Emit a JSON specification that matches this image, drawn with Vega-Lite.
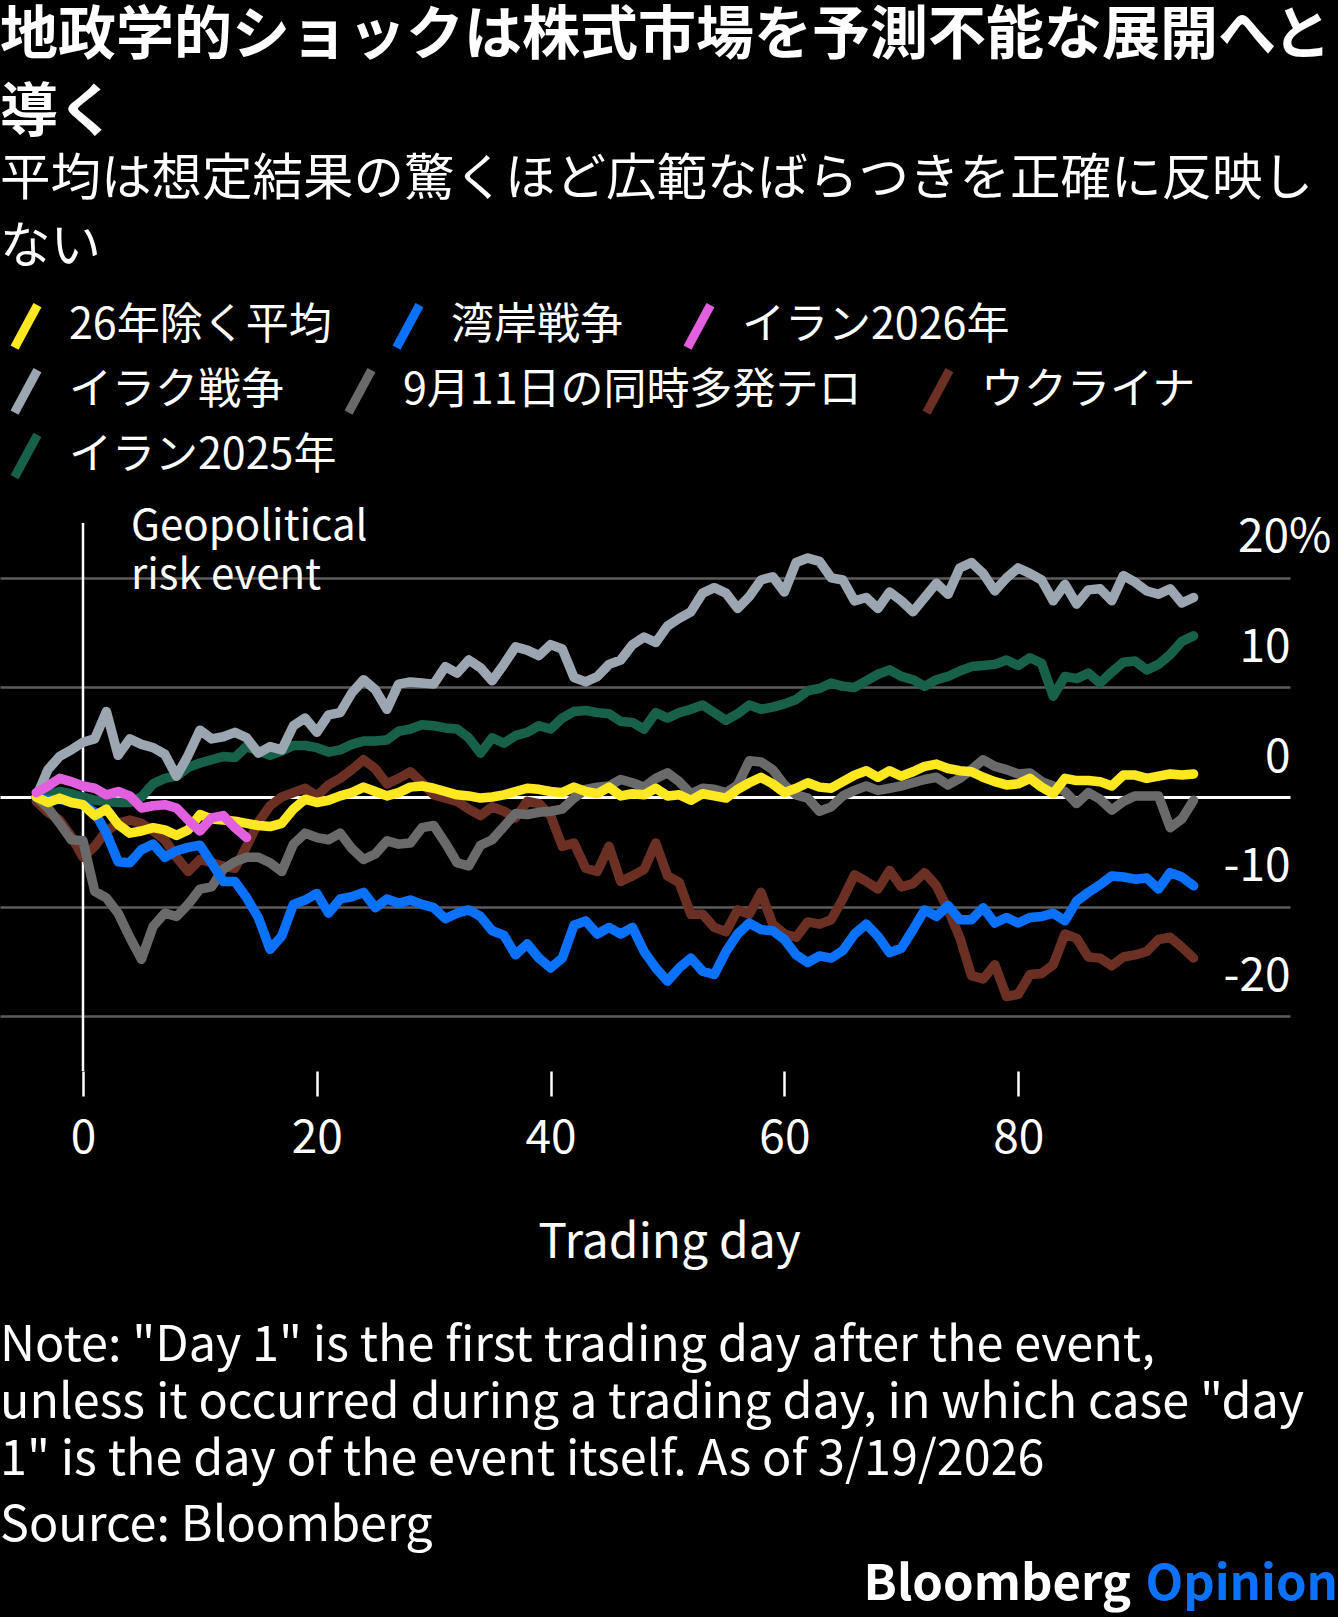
{
  "$schema": "https://vega.github.io/schema/vega-lite/v6.json",
  "background": "black",
  "padding": {"left": 0, "top": 7, "right": 0, "bottom": 0},
  "autosize": {"type": "pad"},
  "title": {
    "text": ["地政学的ショックは株式市場を予測不能な展開へと", "導く"],
    "subtitle": ["平均は想定結果の驚くほど広範なばらつきを正確に反映し", "ない"],
    "anchor": "start",
    "frame": "group",
    "font": "Noto Sans CJK JP",
    "fontSize": 58,
    "fontWeight": "bold",
    "lineHeight": 77,
    "color": "white",
    "subtitleFont": "Noto Sans CJK JP",
    "subtitleFontSize": 50.5,
    "subtitleFontWeight": "normal",
    "subtitleLineHeight": 68,
    "subtitleColor": "white",
    "subtitlePadding": 12,
    "offset": 27
  },
  "datasets": {
    "names": [
      {"k": "a", "name": "26年除く平均"},
      {"k": "g", "name": "湾岸戦争"},
      {"k": "p", "name": "イラン2026年"},
      {"k": "q", "name": "イラク戦争"},
      {"k": "n", "name": "9月11日の同時多発テロ"},
      {"k": "u", "name": "ウクライナ"},
      {"k": "e", "name": "イラン2025年"}
    ],
    "days": [
      {"d": -4, "a": 0.0, "g": 0.0, "p": 0.4, "q": 0.0, "n": 0.0, "u": -0.4, "e": 0.0},
      {"d": -3, "a": -0.5, "g": -0.3, "p": 1.0, "q": 2.5, "n": -1.0, "u": -1.4, "e": 0.2},
      {"d": -2, "a": -0.1, "g": -0.2, "p": 1.7, "q": 3.7, "n": -2.4, "u": -2.1, "e": 0.5},
      {"d": -1, "a": -0.5, "g": -0.5, "p": 1.4, "q": 4.3, "n": -3.9, "u": -3.6, "e": 0.3},
      {"d": 0, "a": -0.7, "g": -0.7, "p": 1.0, "q": 5.0, "n": -4.0, "u": -5.5, "e": 0.0},
      {"d": 1, "a": -1.7, "g": -1.4, "p": 0.8, "q": 5.3, "n": -8.6, "u": -4.5, "e": -0.3},
      {"d": 2, "a": -1.1, "g": -3.3, "p": 0.2, "q": 7.8, "n": -9.2, "u": -3.1, "e": -0.4},
      {"d": 3, "a": -2.5, "g": -5.9, "p": 0.5, "q": 3.8, "n": -10.6, "u": -2.4, "e": -0.5},
      {"d": 4, "a": -3.3, "g": -6.0, "p": 0.1, "q": 5.3, "n": -12.8, "u": -2.1, "e": -0.5},
      {"d": 5, "a": -3.1, "g": -4.8, "p": -1.0, "q": 4.8, "n": -14.8, "u": -2.4, "e": 0.0},
      {"d": 6, "a": -2.8, "g": -4.3, "p": -0.8, "q": 4.5, "n": -11.8, "u": -3.1, "e": 1.2},
      {"d": 7, "a": -3.0, "g": -5.5, "p": -0.7, "q": 3.9, "n": -10.6, "u": -3.9, "e": 1.7},
      {"d": 8, "a": -3.5, "g": -4.9, "p": -1.0, "q": 1.9, "n": -10.9, "u": -5.5, "e": 1.9},
      {"d": 9, "a": -3.0, "g": -4.6, "p": -2.1, "q": 3.8, "n": -9.8, "u": -6.8, "e": 2.7},
      {"d": 10, "a": -1.6, "g": -4.4, "p": -3.1, "q": 6.1, "n": -8.4, "u": -5.7, "e": 3.1},
      {"d": 11, "a": -2.0, "g": -6.0, "p": -1.9, "q": 5.3, "n": -8.2, "u": -6.0, "e": 3.4},
      {"d": 12, "a": -2.1, "g": -7.7, "p": -1.7, "q": 5.5, "n": -6.6, "u": -6.3, "e": 3.7},
      {"d": 13, "a": -2.2, "g": -7.7, "p": -2.8, "q": 5.9, "n": -5.9, "u": -6.5, "e": 3.6},
      {"d": 14, "a": -2.4, "g": -9.2, "p": -3.7, "q": 5.4, "n": -5.5, "u": -4.5, "e": 4.6},
      {"d": 15, "a": -2.6, "g": -11.0, "q": 4.0, "n": -5.5, "u": -2.3, "e": 4.2},
      {"d": 16, "a": -2.7, "g": -13.9, "q": 4.6, "n": -6.0, "u": -0.8, "e": 3.8},
      {"d": 17, "a": -2.4, "g": -12.7, "q": 4.3, "n": -6.8, "u": 0.0, "e": 4.2},
      {"d": 18, "a": -1.1, "g": -9.8, "q": 6.5, "n": -4.3, "u": 0.4, "e": 4.7},
      {"d": 19, "a": -0.2, "g": -9.4, "q": 7.2, "n": -3.3, "u": 0.8, "e": 4.7},
      {"d": 20, "a": -0.5, "g": -8.8, "q": 5.9, "n": -3.7, "u": 0.1, "e": 4.5},
      {"d": 21, "a": -0.3, "g": -10.6, "q": 7.5, "n": -3.9, "u": 1.1, "e": 4.1},
      {"d": 22, "a": 0.1, "g": -9.3, "q": 7.7, "n": -3.3, "u": 1.7, "e": 4.3},
      {"d": 23, "a": 0.4, "g": -9.1, "q": 9.5, "n": -4.7, "u": 2.5, "e": 4.8},
      {"d": 24, "a": 0.9, "g": -8.7, "q": 10.7, "n": -5.7, "u": 3.4, "e": 5.1},
      {"d": 25, "a": 0.5, "g": -10.1, "q": 9.8, "n": -5.2, "u": 2.6, "e": 5.1},
      {"d": 26, "a": 0.1, "g": -9.3, "q": 8.0, "n": -4.0, "u": 1.2, "e": 5.2},
      {"d": 27, "a": 0.4, "g": -9.7, "q": 10.3, "n": -4.3, "u": 1.7, "e": 6.0},
      {"d": 28, "a": 0.9, "g": -9.4, "q": 10.5, "n": -4.2, "u": 2.3, "e": 6.2},
      {"d": 29, "a": 1.0, "g": -9.8, "q": 10.4, "n": -2.8, "u": 1.3, "e": 6.6},
      {"d": 30, "a": 0.8, "g": -10.1, "q": 10.3, "n": -2.6, "u": 0.2, "e": 6.5},
      {"d": 31, "a": 0.5, "g": -11.1, "q": 11.9, "n": -4.2, "u": -0.1, "e": 6.3},
      {"d": 32, "a": 0.2, "g": -10.6, "q": 11.3, "n": -6.0, "u": -0.4, "e": 6.2},
      {"d": 33, "a": 0.1, "g": -10.3, "q": 12.5, "n": -6.3, "u": -1.1, "e": 5.4},
      {"d": 34, "a": -0.1, "g": -10.9, "q": 11.8, "n": -4.4, "u": -1.7, "e": 4.0},
      {"d": 35, "a": 0.0, "g": -12.2, "q": 10.6, "n": -3.9, "u": -0.9, "e": 5.4},
      {"d": 36, "a": 0.2, "g": -12.6, "q": 12.1, "n": -2.7, "u": -1.3, "e": 4.9},
      {"d": 37, "a": 0.5, "g": -14.4, "q": 13.7, "n": -1.5, "u": -1.9, "e": 5.6},
      {"d": 38, "a": 0.8, "g": -13.4, "q": 13.4, "n": -1.6, "u": -0.4, "e": 5.9},
      {"d": 39, "a": 0.7, "g": -14.7, "q": 12.9, "n": -1.4, "u": -0.6, "e": 6.5},
      {"d": 40, "a": 0.5, "g": -15.6, "q": 13.9, "n": -1.3, "u": -1.7, "e": 6.2},
      {"d": 41, "a": 0.4, "g": -14.7, "q": 13.5, "n": -1.1, "u": -4.5, "e": 7.2},
      {"d": 42, "a": 0.9, "g": -11.7, "q": 10.9, "n": -0.1, "u": -4.2, "e": 7.8},
      {"d": 43, "a": 0.5, "g": -11.3, "q": 10.5, "n": 0.7, "u": -6.5, "e": 7.9},
      {"d": 44, "a": 0.3, "g": -12.5, "q": 11.0, "n": 0.9, "u": -6.8, "e": 7.7},
      {"d": 45, "a": 0.9, "g": -11.9, "q": 12.1, "n": 1.0, "u": -4.5, "e": 7.6},
      {"d": 46, "a": 0.1, "g": -12.5, "q": 12.5, "n": 1.6, "u": -7.7, "e": 6.9},
      {"d": 47, "a": 0.3, "g": -11.9, "q": 13.9, "n": 1.3, "u": -7.2, "e": 6.8},
      {"d": 48, "a": 0.2, "g": -14.1, "q": 14.6, "n": 0.9, "u": -6.6, "e": 6.2},
      {"d": 49, "a": 0.8, "g": -15.6, "q": 14.1, "n": 1.7, "u": -4.2, "e": 7.7},
      {"d": 50, "a": 0.1, "g": -16.8, "q": 15.6, "n": 2.2, "u": -7.2, "e": 7.2},
      {"d": 51, "a": 0.2, "g": -15.6, "q": 16.3, "n": 1.4, "u": -7.8, "e": 7.7},
      {"d": 52, "a": -0.3, "g": -14.7, "q": 16.9, "n": 0.3, "u": -10.7, "e": 8.0},
      {"d": 53, "a": 0.3, "g": -15.9, "q": 18.6, "n": 0.8, "u": -10.7, "e": 8.4},
      {"d": 54, "a": 0.1, "g": -16.2, "q": 19.1, "n": 0.7, "u": -11.9, "e": 7.7},
      {"d": 55, "a": -0.1, "g": -14.1, "q": 18.6, "n": 0.4, "u": -12.3, "e": 7.0},
      {"d": 56, "a": 0.7, "g": -12.5, "q": 17.2, "n": 1.1, "u": -10.3, "e": 7.6},
      {"d": 57, "a": 1.3, "g": -11.5, "q": 18.3, "n": 3.3, "u": -10.7, "e": 8.4},
      {"d": 58, "a": 1.8, "g": -12.1, "q": 19.8, "n": 3.2, "u": -8.7, "e": 8.0},
      {"d": 59, "a": 1.2, "g": -12.2, "q": 20.1, "n": 2.5, "u": -11.6, "e": 8.2},
      {"d": 60, "a": 0.4, "g": -13.0, "q": 18.7, "n": 1.1, "u": -12.5, "e": 8.5},
      {"d": 61, "a": 0.8, "g": -14.4, "q": 21.4, "n": 0.2, "u": -12.8, "e": 8.9},
      {"d": 62, "a": 1.3, "g": -15.1, "q": 21.8, "n": -0.1, "u": -11.4, "e": 9.7},
      {"d": 63, "a": 0.9, "g": -14.5, "q": 21.5, "n": -1.3, "u": -11.6, "e": 9.9},
      {"d": 64, "a": 0.8, "g": -14.7, "q": 20.0, "n": -0.9, "u": -11.2, "e": 10.4},
      {"d": 65, "a": 1.4, "g": -14.0, "q": 19.8, "n": 0.1, "u": -9.3, "e": 10.1},
      {"d": 66, "a": 2.0, "g": -12.5, "q": 17.9, "n": 0.6, "u": -7.1, "e": 10.0},
      {"d": 67, "a": 2.4, "g": -11.6, "q": 18.2, "n": 1.0, "u": -7.7, "e": 10.6},
      {"d": 68, "a": 1.8, "g": -12.7, "q": 17.2, "n": 0.6, "u": -8.4, "e": 11.2},
      {"d": 69, "a": 2.4, "g": -14.2, "q": 18.7, "n": 0.8, "u": -6.7, "e": 11.6},
      {"d": 70, "a": 1.9, "g": -13.8, "q": 17.9, "n": 1.0, "u": -8.2, "e": 11.0},
      {"d": 71, "a": 2.3, "g": -12.1, "q": 16.9, "n": 1.3, "u": -7.9, "e": 10.7},
      {"d": 72, "a": 2.8, "g": -10.3, "q": 18.2, "n": 1.6, "u": -6.9, "e": 10.1},
      {"d": 73, "a": 3.0, "g": -10.9, "q": 19.5, "n": 1.8, "u": -8.1, "e": 10.7},
      {"d": 74, "a": 2.6, "g": -9.9, "q": 18.5, "n": 1.1, "u": -10.3, "e": 11.0},
      {"d": 75, "a": 2.4, "g": -11.2, "q": 20.9, "n": 1.7, "u": -12.8, "e": 11.5},
      {"d": 76, "a": 2.3, "g": -11.2, "q": 21.4, "n": 2.5, "u": -16.3, "e": 11.9},
      {"d": 77, "a": 1.8, "g": -10.1, "q": 20.4, "n": 3.4, "u": -16.6, "e": 12.0},
      {"d": 78, "a": 1.4, "g": -11.5, "q": 18.8, "n": 2.8, "u": -15.3, "e": 12.1},
      {"d": 79, "a": 1.1, "g": -11.0, "q": 20.0, "n": 2.5, "u": -18.2, "e": 12.5},
      {"d": 80, "a": 1.2, "g": -11.5, "q": 20.9, "n": 2.1, "u": -18.0, "e": 12.0},
      {"d": 81, "a": 1.7, "g": -11.0, "q": 20.4, "n": 2.2, "u": -16.2, "e": 12.7},
      {"d": 82, "a": 0.9, "g": -10.9, "q": 19.8, "n": 1.4, "u": -16.1, "e": 12.2},
      {"d": 83, "a": 0.3, "g": -10.6, "q": 17.9, "n": 1.0, "u": -15.3, "e": 9.2},
      {"d": 84, "a": 1.7, "g": -11.3, "q": 19.4, "n": 0.5, "u": -12.5, "e": 11.0},
      {"d": 85, "a": 1.5, "g": -9.5, "q": 17.6, "n": -0.6, "u": -12.9, "e": 10.8},
      {"d": 86, "a": 1.5, "g": -8.7, "q": 18.9, "n": 0.4, "u": -14.6, "e": 11.3},
      {"d": 87, "a": 1.4, "g": -8.0, "q": 19.0, "n": -0.2, "u": -14.7, "e": 10.4},
      {"d": 88, "a": 1.0, "g": -7.2, "q": 17.9, "n": -1.2, "u": -15.4, "e": 11.4},
      {"d": 89, "a": 2.0, "g": -7.3, "q": 20.2, "n": -0.4, "u": -14.6, "e": 12.3},
      {"d": 90, "a": 2.0, "g": -7.5, "q": 19.6, "n": 0.1, "u": -14.4, "e": 12.4},
      {"d": 91, "a": 1.7, "g": -7.4, "q": 18.8, "n": 0.1, "u": -14.1, "e": 11.6},
      {"d": 92, "a": 1.9, "g": -8.4, "q": 18.5, "n": 0.1, "u": -13.0, "e": 12.1},
      {"d": 93, "a": 2.1, "g": -6.9, "q": 19.0, "n": -2.8, "u": -12.8, "e": 13.0},
      {"d": 94, "a": 2.0, "g": -7.3, "q": 17.7, "n": -2.0, "u": -13.7, "e": 14.2},
      {"d": 95, "a": 2.1, "g": -8.1, "q": 18.2, "n": -0.3, "u": -14.7, "e": 14.7}
    ]
  },
  "vconcat": [
    {
      "spacing": -21,
      "resolve": {"scale": {"color": "independent"}, "legend": {"color": "independent"}},
      "vconcat": [
        {
          "width": 1290,
          "height": 0,
          "data": {"name": "names"},
          "transform": [{"filter": "false"}],
          "mark": {"type": "line", "strokeWidth": 9},
          "encoding": {
            "color": {
              "field": "name",
              "type": "nominal",
              "scale": {
                "domain": ["26年除く平均", "湾岸戦争", "イラン2026年", "イラク戦争", "9月11日の同時多発テロ", "ウクライナ", "イラン2025年"],
                "range": ["#FFE81F", "#0A72FF", "#E25FDF", "#9CA6B1", "#6A6A6A", "#6B2F24", "#17614A"]
              },
              "legend": {"values": ["26年除く平均", "湾岸戦争", "イラン2026年"], "title": null}
            }
          }
        },
        {
          "width": 1290,
          "height": 0,
          "data": {"name": "names"},
          "transform": [{"filter": "false"}],
          "mark": {"type": "line", "strokeWidth": 9},
          "encoding": {
            "color": {
              "field": "name",
              "type": "nominal",
              "scale": {
                "domain": ["26年除く平均", "湾岸戦争", "イラン2026年", "イラク戦争", "9月11日の同時多発テロ", "ウクライナ", "イラン2025年"],
                "range": ["#FFE81F", "#0A72FF", "#E25FDF", "#9CA6B1", "#6A6A6A", "#6B2F24", "#17614A"]
              },
              "legend": {"values": ["イラク戦争", "9月11日の同時多発テロ", "ウクライナ"], "title": null}
            }
          }
        },
        {
          "width": 1290,
          "height": 0,
          "data": {"name": "names"},
          "transform": [{"filter": "false"}],
          "mark": {"type": "line", "strokeWidth": 9},
          "encoding": {
            "color": {
              "field": "name",
              "type": "nominal",
              "scale": {
                "domain": ["26年除く平均", "湾岸戦争", "イラン2026年", "イラク戦争", "9月11日の同時多発テロ", "ウクライナ", "イラン2025年"],
                "range": ["#FFE81F", "#0A72FF", "#E25FDF", "#9CA6B1", "#6A6A6A", "#6B2F24", "#17614A"]
              },
              "legend": {"values": ["イラン2025年"], "title": null}
            }
          }
        }
      ]
    },
    {
      "width": 1290,
      "height": 548,
      "title": {
        "text": [
          "Note: \"Day 1\" is the first trading day after the event,",
          "unless it occurred during a trading day, in which case \"day",
          "1\" is the day of the event itself. As of 3/19/2026"
        ],
        "subtitle": "Source: Bloomberg",
        "orient": "bottom",
        "anchor": "start",
        "frame": "group",
        "font": "Noto Sans CJK JP",
        "fontSize": 48.5,
        "fontWeight": "normal",
        "lineHeight": 57,
        "color": "white",
        "subtitleFont": "Noto Sans CJK JP",
        "subtitleFontSize": 48.5,
        "subtitleColor": "white",
        "subtitlePadding": 17,
        "offset": 56
      },
      "layer": [
        {
          "data": {"values": [{}]},
          "mark": {"type": "rule", "color": "white", "strokeWidth": 2.5},
          "encoding": {
            "x": {"datum": 0, "type": "quantitative"},
            "y": {"datum": 25, "type": "quantitative"},
            "y2": {"datum": -25}
          }
        },
        {
          "data": {"name": "days"},
          "transform": [
            {"fold": ["e", "u", "n", "q", "g", "a", "p"], "as": ["k", "v"]},
            {"filter": "datum.v != null"},
            {"lookup": "k", "from": {"data": {"name": "names"}, "key": "k", "fields": ["name"]}}
          ],
          "mark": {"type": "line", "strokeWidth": 9.5, "strokeJoin": "round", "strokeCap": "round"},
          "encoding": {
            "x": {
              "field": "d",
              "type": "quantitative",
              "scale": {"domain": [-7.1, 103.25], "nice": false, "zero": false},
              "axis": {
                "values": [0, 20, 40, 60, 80],
                "grid": false,
                "domain": false,
                "ticks": true,
                "tickColor": "white",
                "tickSize": 25,
                "tickWidth": 2.5,
                "labelFontSize": 46,
                "labelColor": "white",
                "labelPadding": 20,
                "title": "Trading day",
                "titleFontSize": 48,
                "titleFontWeight": "normal",
                "titleColor": "white",
                "titlePadding": 58,
                "titleX": 669
              }
            },
            "y": {
              "field": "v",
              "type": "quantitative",
              "scale": {"domain": [-25, 25], "nice": false, "zero": false},
              "axis": {
                "orient": "right",
                "values": [-20, -10, 0, 10, 20],
                "title": null,
                "domain": false,
                "ticks": false,
                "grid": true,
                "gridColor": {"condition": {"test": "datum.value === 0", "value": "white"}, "value": "#5c5c5c"},
                "gridWidth": {"condition": {"test": "datum.value === 0", "value": 3}, "value": 2.5},
                "labelAlign": "right",
                "labelBaseline": "middle",
                "labelPadding": {"condition": {"test": "datum.value === 20", "value": 41}, "value": 0},
                "labelOffset": -40,
                "labelExpr": "datum.value === 20 ? '20%' : (datum.value < 0 ? '-' + abs(datum.value) : '' + datum.value)",
                "labelFontSize": 46,
                "labelColor": "white"
              }
            },
            "color": {
              "field": "name",
              "type": "nominal",
              "scale": {
                "domain": ["26年除く平均", "湾岸戦争", "イラン2026年", "イラク戦争", "9月11日の同時多発テロ", "ウクライナ", "イラン2025年"],
                "range": ["#FFE81F", "#0A72FF", "#E25FDF", "#9CA6B1", "#6A6A6A", "#6B2F24", "#17614A"]
              },
              "legend": null
            }
          }
        },
        {
          "data": {"values": [{}]},
          "mark": {
            "type": "text",
            "align": "left",
            "baseline": "alphabetic",
            "dx": 48,
            "dy": 17,
            "fontSize": 42,
            "lineHeight": 49,
            "color": "white",
            "text": ["Geopolitical", "risk event"]
          },
          "encoding": {
            "x": {"datum": 0, "type": "quantitative"},
            "y": {"datum": 25, "type": "quantitative"}
          }
        }
      ]
    },
    {
      "width": 1338,
      "height": 70,
      "data": {"values": [{}]},
      "layer": [
        {
          "mark": {"type": "text", "align": "right", "baseline": "middle", "fontSize": 49, "fontWeight": "bold", "color": "#0A72FF", "text": "Opinion"},
          "encoding": {
            "x": {"datum": 1, "type": "quantitative", "scale": {"domain": [0, 1], "nice": false}, "axis": null}
          }
        },
        {
          "mark": {"type": "text", "align": "right", "baseline": "middle", "dx": -207, "fontSize": 49, "fontWeight": "bold", "color": "white", "text": "Bloomberg"},
          "encoding": {
            "x": {"datum": 1, "type": "quantitative", "axis": null}
          }
        }
      ]
    }
  ],
  "spacing": -10,
  "resolve": {"scale": {"color": "independent"}, "legend": {"color": "independent"}},
  "config": {
    "font": "Noto Sans CJK JP",
    "view": {"stroke": null},
    "legend": {
      "orient": "top",
      "direction": "horizontal",
      "symbolType": "M-0.54,1L0.54,-1",
      "symbolSize": 1800,
      "symbolStrokeWidth": 9,
      "labelFontSize": 43,
      "labelColor": "white",
      "labelOffset": 17,
      "labelLimit": 0,
      "columnPadding": 46,
      "rowPadding": 0,
      "offset": 0,
      "padding": 0
    }
  }
}
